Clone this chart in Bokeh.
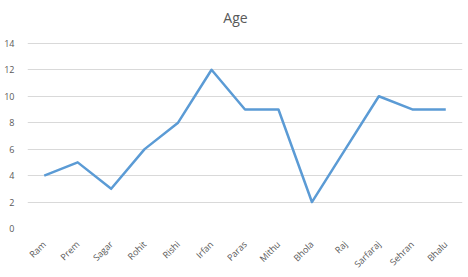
import math
from bokeh.plotting import figure
from bokeh.models import Range1d, FactorRange
from bokeh.core.properties import value
from bokeh.embed import file_html
from bokeh.resources import INLINE

names = ["Ram", "Prem", "Sagar", "Rohit", "Rishi", "Irfan", "Paras", "Mithu",
         "Bhola", "Raj", "Sarfaraj", "Sehran", "Bhalu"]
ages = [4, 5, 3, 6, 8, 12, 9, 9, 2, 6, 10, 9, 9]
y_ticks = [0, 2, 4, 6, 8, 10, 12, 14]
title_text = "Age"

FONT = "Open Sans"
GREY = "#595959"

# layout in pixels
W, H = 468, 277
LEFT, RIGHT, BOTTOM = 27, 6, 48
GRID_TOP_PX = 43          # canvas y of the 14 gridline
TITLE_CX, TITLE_CY = 235, 17

frame_h = H - BOTTOM      # frame runs from canvas top to bottom border
frame_w = W - LEFT - RIGHT
y_max_tick = y_ticks[-1]
px_per_unit = (frame_h - GRID_TOP_PX) / y_max_tick
y_end = y_max_tick + GRID_TOP_PX / px_per_unit

p = figure(width=W, height=H, x_range=FactorRange(*names, range_padding=0),
           y_range=Range1d(0, y_end), output_backend="svg", toolbar_location=None,
           min_border_left=LEFT, min_border_right=RIGHT, min_border_bottom=BOTTOM,
           min_border_top=0)

p.line(names, ages, line_color="#5B9BD5", line_width=2.5, line_join="round")

# chart title, drawn inside the (extended) frame
title_x = (TITLE_CX - LEFT) / frame_w * len(names)
title_y = y_max_tick + (GRID_TOP_PX - TITLE_CY) / px_per_unit
p.text(x=[title_x], y=[title_y], text=[title_text], text_align="center",
       text_baseline="middle", text_font=value(FONT), text_font_size="14px",
       text_color=GREY)

p.outline_line_color = None
p.xgrid.grid_line_color = None
p.ygrid.grid_line_color = "#D9D9D9"
p.ygrid.grid_line_width = 1
p.yaxis.ticker = y_ticks

for ax in (p.xaxis, p.yaxis):
    ax.axis_line_color = None
    ax.major_tick_line_color = None
    ax.minor_tick_line_color = None
    ax.major_label_text_font = FONT
    ax.major_label_text_font_size = "9px"
    ax.major_label_text_color = GREY

p.yaxis.major_label_standoff = 7
p.xaxis.major_label_orientation = math.pi / 4
p.xaxis.major_label_standoff = 8

open("out.html", "w").write(file_html(p, INLINE))
